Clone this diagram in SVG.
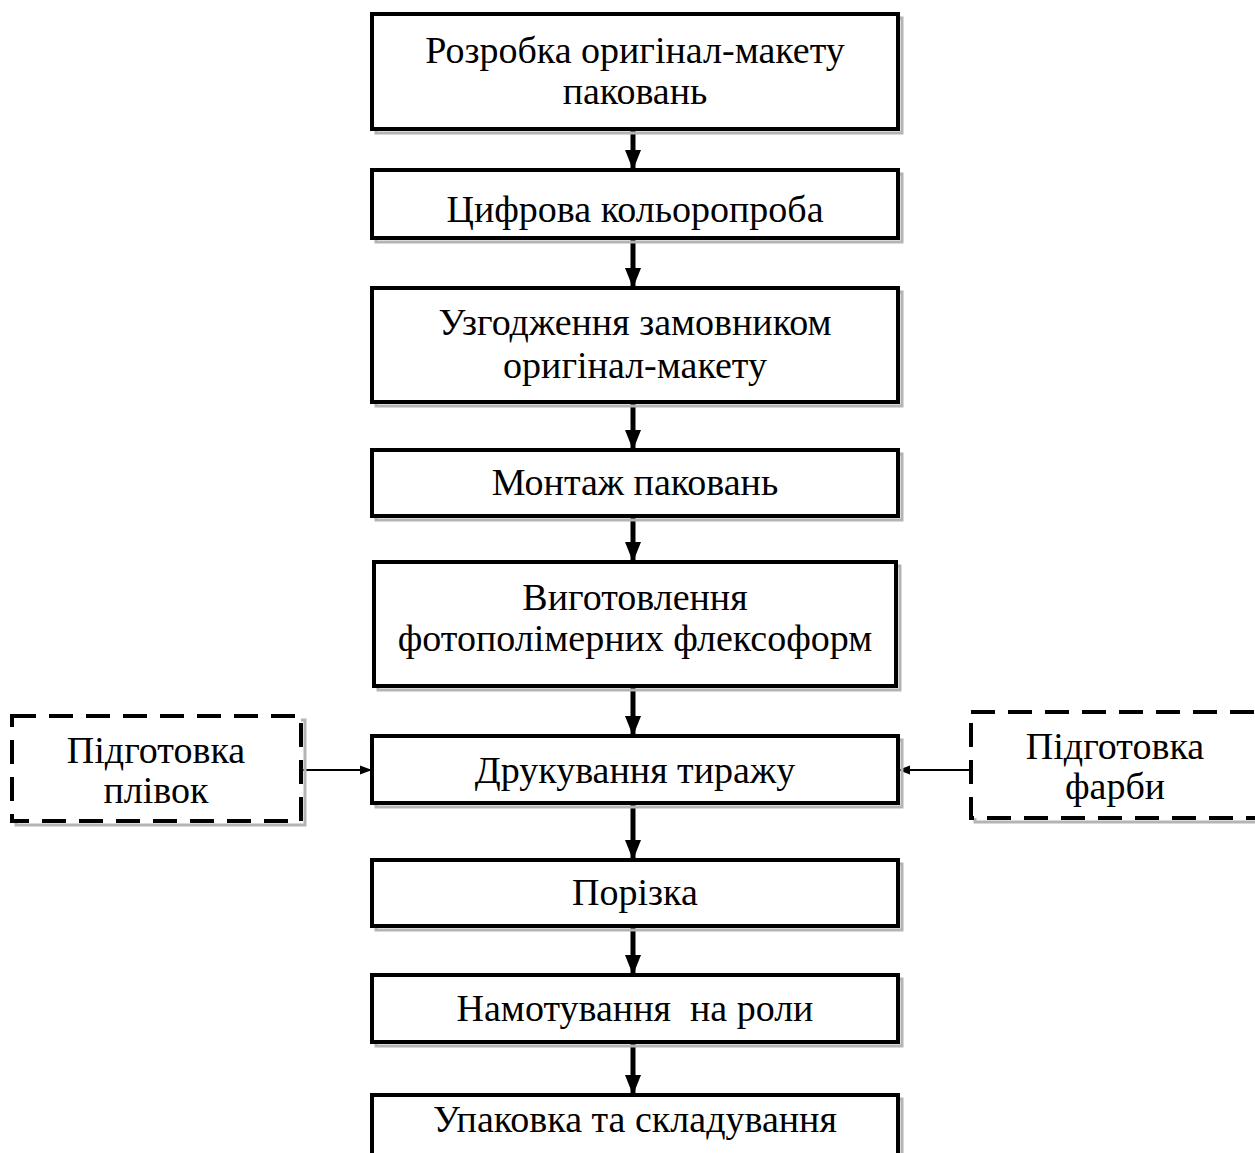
<svg xmlns="http://www.w3.org/2000/svg" width="1255" height="1153" viewBox="0 0 1255 1153">
<style>
.sh{fill:none;stroke:#b4b4b4;stroke-width:3}
.bx{fill:#fff;stroke:#000;stroke-width:4}
.dbx{fill:#fff;stroke:#000;stroke-width:4;stroke-dasharray:24 13}
.t{font-family:"Liberation Serif","Times New Roman",serif;font-size:38px;fill:#000;text-anchor:middle;white-space:pre}
.c{stroke:#000;stroke-width:5;fill:none}
.cs{stroke:#000;stroke-width:2;fill:none}
</style>
<defs>
<marker id="ah" markerWidth="20" markerHeight="16" refX="20" refY="8" orient="auto" markerUnits="userSpaceOnUse"><path d="M0,0 L20,8 L0,16 Z" fill="#000"/></marker>
<marker id="as" markerWidth="12" markerHeight="10" refX="12" refY="5" orient="auto" markerUnits="userSpaceOnUse"><path d="M0,0.5 L12,5 L0,9.5 Z" fill="#000"/></marker>
</defs>
<rect width="1255" height="1153" fill="#fff"/>
<g id="connectors">
<line class="c" x1="633" y1="131" x2="633" y2="170" marker-end="url(#ah)"/>
<line class="c" x1="633" y1="240" x2="633" y2="288" marker-end="url(#ah)"/>
<line class="c" x1="633" y1="404" x2="633" y2="450" marker-end="url(#ah)"/>
<line class="c" x1="633" y1="518" x2="633" y2="562" marker-end="url(#ah)"/>
<line class="c" x1="633" y1="688" x2="633" y2="736" marker-end="url(#ah)"/>
<line class="c" x1="633" y1="805" x2="633" y2="860" marker-end="url(#ah)"/>
<line class="c" x1="633" y1="928" x2="633" y2="975" marker-end="url(#ah)"/>
<line class="c" x1="633" y1="1044" x2="633" y2="1095" marker-end="url(#ah)"/>
<line class="cs" x1="301" y1="770" x2="372" y2="770" marker-end="url(#as)"/>
<line class="cs" x1="971" y1="770" x2="898" y2="770" marker-end="url(#as)"/>
</g>
<g id="n1"><rect class="sh" x="376" y="18" width="526" height="115"/><rect class="bx" x="372" y="14" width="526" height="115"/><text class="t" x="635" y="63">Розробка оригінал-макету</text><text class="t" x="635" y="104">паковань</text></g>
<g id="n2"><rect class="sh" x="376" y="174" width="526" height="68"/><rect class="bx" x="372" y="170" width="526" height="68"/><text class="t" x="635" y="222">Цифрова кольоропроба</text></g>
<g id="n3"><rect class="sh" x="376" y="292" width="526" height="114"/><rect class="bx" x="372" y="288" width="526" height="114"/><text class="t" x="635" y="335">Узгодження замовником</text><text class="t" x="635" y="378">оригінал-макету</text></g>
<g id="n4"><rect class="sh" x="376" y="454" width="526" height="66"/><rect class="bx" x="372" y="450" width="526" height="66"/><text class="t" x="635" y="495">Монтаж паковань</text></g>
<g id="n5"><rect class="sh" x="378" y="566" width="522" height="124"/><rect class="bx" x="374" y="562" width="522" height="124"/><text class="t" x="635" y="610">Виготовлення</text><text class="t" x="635" y="651">фотополімерних флексоформ</text></g>
<g id="n6"><rect class="sh" x="376" y="740" width="526" height="67"/><rect class="bx" x="372" y="736" width="526" height="67"/><text class="t" x="635" y="783">Друкування тиражу</text></g>
<g id="n7"><rect class="sh" x="376" y="864" width="526" height="66"/><rect class="bx" x="372" y="860" width="526" height="66"/><text class="t" x="635" y="905">Порізка</text></g>
<g id="n8"><rect class="sh" x="376" y="979" width="526" height="67"/><rect class="bx" x="372" y="975" width="526" height="67"/><text class="t" x="635" y="1021">Намотування  на роли</text></g>
<g id="n9"><rect class="sh" x="376" y="1099" width="526" height="80"/><rect class="bx" x="372" y="1095" width="526" height="80"/><text class="t" x="635" y="1132">Упаковка та складування</text></g>
<g id="l1"><rect class="sh" x="16" y="720" width="289" height="105"/><rect class="dbx" x="12" y="716" width="289" height="105"/><text class="t" x="156" y="763">Підготовка</text><text class="t" x="156" y="803">плівок</text></g>
<g id="r1"><rect class="sh" x="975" y="716" width="300" height="106"/><rect class="dbx" x="971" y="712" width="300" height="106"/><text class="t" x="1115" y="759">Підготовка</text><text class="t" x="1115" y="799">фарби</text></g>
</svg>
